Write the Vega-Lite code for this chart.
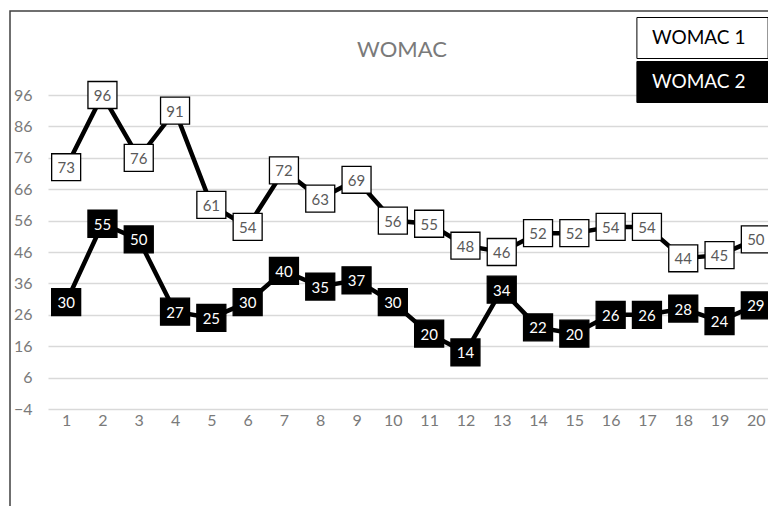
{
  "$schema": "https://vega.github.io/schema/vega-lite/v6.json",
  "autosize": "none",
  "width": 758,
  "height": 495,
  "padding": {"left": 10, "top": 11, "right": 0, "bottom": 0},
  "background": "white",
  "title": {"text": "WOMAC", "anchor": "middle", "dx": 13, "offset": -68, "baseline": "alphabetic", "fontSize": 22, "font": "Lato", "fontWeight": "normal", "color": "#7a7a7a"},
  "config": {
    "view": {"stroke": "#404040", "strokeWidth": 1.5, "strokeDash": [758, 1253, 495, 1]},
    "font": "Lato"
  },
  "data": {"values": [
    {"point": 1, "series": "WOMAC 1", "score": 73},
    {"point": 2, "series": "WOMAC 1", "score": 96},
    {"point": 3, "series": "WOMAC 1", "score": 76},
    {"point": 4, "series": "WOMAC 1", "score": 91},
    {"point": 5, "series": "WOMAC 1", "score": 61},
    {"point": 6, "series": "WOMAC 1", "score": 54},
    {"point": 7, "series": "WOMAC 1", "score": 72},
    {"point": 8, "series": "WOMAC 1", "score": 63},
    {"point": 9, "series": "WOMAC 1", "score": 69},
    {"point": 10, "series": "WOMAC 1", "score": 56},
    {"point": 11, "series": "WOMAC 1", "score": 55},
    {"point": 12, "series": "WOMAC 1", "score": 48},
    {"point": 13, "series": "WOMAC 1", "score": 46},
    {"point": 14, "series": "WOMAC 1", "score": 52},
    {"point": 15, "series": "WOMAC 1", "score": 52},
    {"point": 16, "series": "WOMAC 1", "score": 54},
    {"point": 17, "series": "WOMAC 1", "score": 54},
    {"point": 18, "series": "WOMAC 1", "score": 44},
    {"point": 19, "series": "WOMAC 1", "score": 45},
    {"point": 20, "series": "WOMAC 1", "score": 50},
    {"point": 1, "series": "WOMAC 2", "score": 30},
    {"point": 2, "series": "WOMAC 2", "score": 55},
    {"point": 3, "series": "WOMAC 2", "score": 50},
    {"point": 4, "series": "WOMAC 2", "score": 27},
    {"point": 5, "series": "WOMAC 2", "score": 25},
    {"point": 6, "series": "WOMAC 2", "score": 30},
    {"point": 7, "series": "WOMAC 2", "score": 40},
    {"point": 8, "series": "WOMAC 2", "score": 35},
    {"point": 9, "series": "WOMAC 2", "score": 37},
    {"point": 10, "series": "WOMAC 2", "score": 30},
    {"point": 11, "series": "WOMAC 2", "score": 20},
    {"point": 12, "series": "WOMAC 2", "score": 14},
    {"point": 13, "series": "WOMAC 2", "score": 34},
    {"point": 14, "series": "WOMAC 2", "score": 22},
    {"point": 15, "series": "WOMAC 2", "score": 20},
    {"point": 16, "series": "WOMAC 2", "score": 26},
    {"point": 17, "series": "WOMAC 2", "score": 26},
    {"point": 18, "series": "WOMAC 2", "score": 28},
    {"point": 19, "series": "WOMAC 2", "score": 24},
    {"point": 20, "series": "WOMAC 2", "score": 29}
  ]},
  "encoding": {
    "x": {"field": "point", "type": "quantitative",
      "scale": {"domain": [0.5, 20.335], "range": [38, 758], "nice": false, "zero": false},
      "axis": {"values": [1,2,3,4,5,6,7,8,9,10,11,12,13,14,15,16,17,18,19,20], "title": null, "grid": false, "domain": false, "ticks": false, "labelFontSize": 16, "labelFont": "Lato", "labelColor": "#7a7a7a", "labelPadding": 3, "offset": -97, "format": "d", "labelOverlap": false}},
    "y": {"field": "score", "type": "quantitative",
      "scale": {"domain": [-4, 96], "range": [398, 84], "nice": false, "zero": false},
      "axis": {"values": [-4,6,16,26,36,46,56,66,76,86,96], "title": null, "grid": true, "gridColor": "#d9d9d9", "gridWidth": 1.5, "domain": false, "ticks": false, "labelFontSize": 16, "labelFont": "Lato", "labelColor": "#7a7a7a", "labelPadding": 0, "offset": -22, "format": "d"}}
  },
  "layer": [
    {
      "data": {"values": [{"zero": 0}]},
      "mark": {"type": "rule", "color": "#d9d9d9", "strokeWidth": 1.5},
      "encoding": {"x": {"datum": 0.5}, "x2": {"datum": 20.335}, "y": {"field": "zero", "type": "quantitative"}}
    },
    {
      "mark": {"type": "line", "strokeWidth": 4.5, "color": "black"},
      "encoding": {"detail": {"field": "series", "type": "nominal"}}
    },
    {
      "mark": {"type": "point", "shape": "M-1,-0.93H1V0.93H-1Z", "size": 841, "filled": true, "stroke": "black", "strokeWidth": 1.3, "opacity": 1},
      "encoding": {
        "fill": {"field": "series", "type": "nominal",
          "scale": {"domain": ["WOMAC 1", "WOMAC 2"], "range": ["white", "black"]},
          "legend": {"title": null, "orient": "none", "legendX": 671.5, "legendY": 6,
            "symbolType": "M-3.2,-1H3.2V1H-3.2Z", "symbolSize": 1681, "symbolStrokeColor": "black", "symbolStrokeWidth": 1, "symbolOpacity": 1,
            "labelFontSize": 19, "labelFont": "Lato", "labelOffset": -71.5, "rowPadding": -7, "padding": 0, "labelLimit": 200,
            "encode": {"labels": {"update": {"fill": {"signal": "datum.label === 'WOMAC 2' ? 'white' : 'black'"}}}}}}
      }
    },
    {
      "mark": {"type": "text", "fontSize": 15, "font": "Lato", "baseline": "middle", "align": "center", "dy": 1},
      "encoding": {
        "text": {"field": "score", "type": "quantitative"},
        "color": {"field": "series", "type": "nominal",
          "scale": {"domain": ["WOMAC 1", "WOMAC 2"], "range": ["#595959", "white"]},
          "legend": null}
      }
    }
  ]
}
